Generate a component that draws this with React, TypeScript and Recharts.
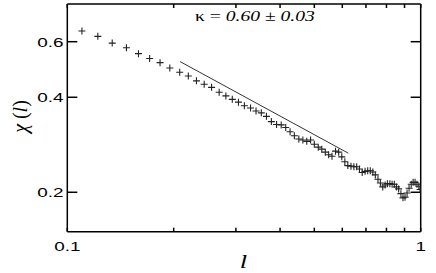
import React from "react";
import { ComposedChart, Scatter, Line, XAxis, YAxis } from "recharts";

const lengthValues = [
  0.110, 0.122, 0.134, 0.147, 0.159, 0.171, 0.183, 0.195, 0.208, 0.220,
  0.232, 0.244, 0.256, 0.269, 0.281, 0.293, 0.305, 0.317, 0.330, 0.342,
  0.354, 0.366, 0.378, 0.391, 0.403, 0.415, 0.427, 0.439, 0.452, 0.464,
  0.476, 0.488, 0.500, 0.513, 0.525, 0.537, 0.549, 0.561, 0.574, 0.586,
  0.598, 0.610, 0.622, 0.635, 0.647, 0.659, 0.671, 0.683, 0.696, 0.708,
  0.720, 0.732, 0.744, 0.757, 0.769, 0.781, 0.793, 0.805, 0.818, 0.830,
  0.842, 0.854, 0.866, 0.879, 0.891, 0.903, 0.915, 0.927, 0.940, 0.952,
  0.964, 0.976, 0.988, 0.996,
];

const chiValues = [
  0.649, 0.624, 0.594, 0.574, 0.550, 0.531, 0.515, 0.495, 0.480, 0.467,
  0.451, 0.440, 0.430, 0.415, 0.404, 0.394, 0.386, 0.376, 0.370, 0.362,
  0.357, 0.348, 0.335, 0.328, 0.327, 0.321, 0.311, 0.302, 0.295, 0.293,
  0.290, 0.293, 0.284, 0.278, 0.274, 0.268, 0.263, 0.260, 0.270, 0.268,
  0.259, 0.250, 0.243, 0.242, 0.241, 0.241, 0.237, 0.231, 0.233, 0.234,
  0.234, 0.232, 0.227, 0.220, 0.214, 0.208, 0.211, 0.213, 0.213, 0.212,
  0.212, 0.208, 0.205, 0.198, 0.192, 0.193, 0.199, 0.206, 0.212, 0.215,
  0.215, 0.212, 0.209, 0.204,
];

const fitL = [0.2085, 0.624];
const fitChi = [0.519, 0.266];

const xTicks = [0.1, 0.2, 0.3, 0.4, 0.5, 0.6, 0.7, 0.8, 0.9, 1];
const xLabelTicks = [0.1, 1];
const yTicks = [0.2, 0.4, 0.6];
const xDomain = [0.1, 1];
const yDomain = [0.15, 0.79];
const annotation = { kappa: "κ = ", value: "0.60", pm: " ± ", err: "0.03" };

const points = lengthValues.map((x, i) => ({ x, y: chiValues[i] }));
const fitData = fitL.map((x, i) => ({ x, y: fitChi[i] }));

const SX = 1.4;

const PlusShape = (props: any) => {
  const { cx, cy } = props;
  if (cx == null || cy == null) return <g />;
  return (
    <path
      d={`M${cx - 3.5},${cy}h7M${cx},${cy - 3.5}v7`}
      stroke="#222"
      strokeWidth={1.1}
      fill="none"
    />
  );
};

const BottomTick = (props: any) => {
  const { payload } = props;
  const v = payload.value;
  if (!xLabelTicks.includes(v)) return <g />;
  return (
    <text
      transform={`translate(${payload.coordinate},251) scale(${SX},1)`}
      textAnchor="middle"
      fontFamily="Liberation Sans, Arial, sans-serif"
      fontSize={13.5}
      fill="#000"
    >
      {String(v)}
    </text>
  );
};

const LeftTick = (props: any) => {
  const { payload } = props;
  return (
    <text
      transform={`translate(63.5,${payload.coordinate + 4.8}) scale(${SX},1)`}
      textAnchor="end"
      fontFamily="Liberation Sans, Arial, sans-serif"
      fontSize={13.5}
      fill="#000"
    >
      {String(payload.value)}
    </text>
  );
};

const NoTick = () => <g />;

const XTitle = () => (
  <text
    transform={`translate(243.5,268) scale(${SX},1)`}
    textAnchor="middle"
    fontFamily="Liberation Serif, Times New Roman, serif"
    fontStyle="italic"
    fontSize={19}
    fill="#000"
  >
    l
  </text>
);

const YTitle = () => (
  <text
    transform={`translate(20,116.5) scale(1.1,1) rotate(-90)`}
    textAnchor="middle"
    dy="0.3em"
    fontFamily="Liberation Serif, Times New Roman, serif"
    fontSize={20}
    fill="#000"
    style={{ whiteSpace: "pre" }}
  >
    <tspan fontStyle="italic">χ</tspan>
    <tspan> (</tspan>
    <tspan fontStyle="italic">l</tspan>
    <tspan>)</tspan>
  </text>
);

const Annotation = () => (
  <text
    transform={`translate(195,21) scale(${SX},1)`}
    textAnchor="start"
    fontFamily="Liberation Serif, Times New Roman, serif"
    fontSize={14}
    fill="#000"
    style={{ whiteSpace: "pre" }}
  >
    <tspan>{annotation.kappa}</tspan>
    <tspan fontStyle="italic">{annotation.value}</tspan>
    <tspan>{annotation.pm}</tspan>
    <tspan fontStyle="italic">{annotation.err}</tspan>
  </text>
);

export default function App() {
  return (
    <div style={{ position: "absolute", left: 0, top: 0, background: "#fff" }}>
      <ComposedChart
        width={436}
        height={273}
        margin={{ top: 3, right: 14.3, bottom: 11.3, left: 7.3 }}
      >
        <XAxis
          xAxisId="b"
          dataKey="x"
          type="number"
          scale="log"
          domain={xDomain}
          allowDataOverflow
          ticks={xTicks}
          interval={0}
          tickSize={-4}
          tick={<BottomTick />}
          height={30}
          stroke="#000"
          strokeWidth={1.5}
          label={<XTitle />}
        />
        <XAxis
          xAxisId="t"
          dataKey="x"
          orientation="top"
          type="number"
          scale="log"
          domain={xDomain}
          allowDataOverflow
          ticks={xTicks}
          interval={0}
          tickSize={-4}
          tick={<NoTick />}
          height={1}
          stroke="#000"
          strokeWidth={1.5}
          label={<Annotation />}
        />
        <YAxis
          yAxisId="l"
          dataKey="y"
          type="number"
          scale="log"
          domain={yDomain}
          allowDataOverflow
          ticks={yTicks}
          interval={0}
          tickSize={-10}
          tick={<LeftTick />}
          width={60}
          stroke="#000"
          strokeWidth={1.5}
          label={<YTitle />}
        />
        <YAxis
          yAxisId="r"
          dataKey="y"
          orientation="right"
          type="number"
          scale="log"
          domain={yDomain}
          allowDataOverflow
          ticks={yTicks}
          interval={0}
          tickSize={-10}
          tick={<NoTick />}
          width={1}
          stroke="#000"
          strokeWidth={1.5}
        />
        <Scatter
          data={points}
          xAxisId="b"
          yAxisId="l"
          dataKey="y"
          shape={<PlusShape />}
          isAnimationActive={false}
        />
        <Line
          data={fitData}
          xAxisId="t"
          yAxisId="r"
          dataKey="y"
          type="linear"
          stroke="#333"
          strokeWidth={1}
          dot={false}
          activeDot={false}
          isAnimationActive={false}
        />
      </ComposedChart>
    </div>
  );
}
